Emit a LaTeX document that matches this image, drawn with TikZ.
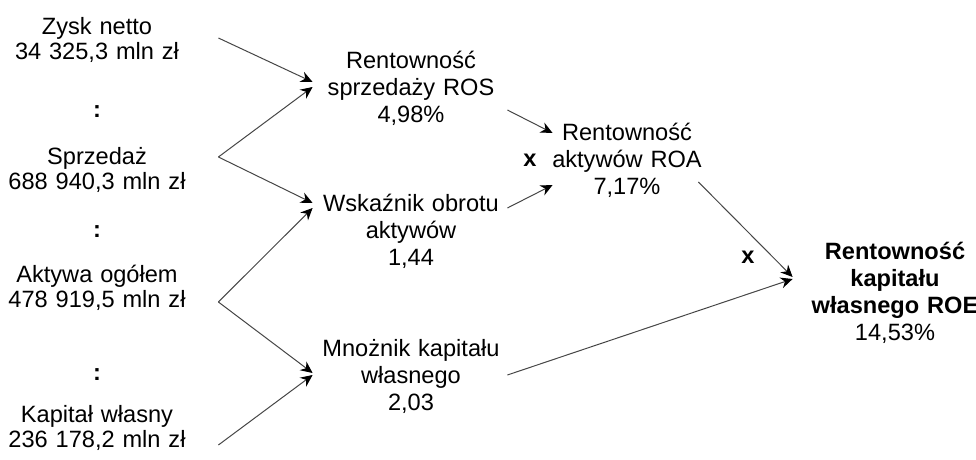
\documentclass[tikz,border=0pt]{standalone}
\usepackage{fontspec}
\setmainfont{Liberation Sans}
\usetikzlibrary{arrows.meta,calc}
\definecolor{linegray}{RGB}{70,70,70}
\newcommand{\diagfont}{\fontsize{11.8}{12.5}\selectfont}
\newcommand{\ratiofont}{\fontsize{11.8}{13.5}\selectfont}

\begin{document}
\begin{tikzpicture}[x=0.5pt, y=-0.5pt, font=\diagfont,
  val/.style={align=center, inner sep=0pt},
  src/.style={val, text width=95pt, inner xsep=13pt},
  mid/.style={val, font=\ratiofont, text width=95pt, inner xsep=1.5pt},
  op/.style={font=\diagfont\bfseries},
  link/.style={draw=linegray, line width=0.5pt, -{Stealth[length=6pt, width=5.5pt, inset=2pt, color=black]}}]
\useasboundingbox (0,0) rectangle (976,460);

% Left column
\node[src] (zysk) at (97,40) {Zysk netto\\34 325,3 mln zł};
\node[op] (d1) at (97,112) {:};
\node[src] (sprz) at (97,170) {Sprzedaż\\688 940,3 mln zł};
\node[op] (d2) at (97,232) {:};
\node[src] (akt) at (97,288) {Aktywa ogółem\\478 919,5 mln zł};
\node[op] (d3) at (97,375) {:};
\node[src] (kap) at (97,428) {Kapitał własny\\236 178,2 mln zł};

% Ratios
\node[mid] (ros) at (411,88) {Rentowność\\sprzedaży ROS\\4,98\%};
\node[mid] (wsk) at (411,231) {Wskaźnik obrotu\\aktywów\\1,44};
\node[mid] (mk) at (411,376) {Mnożnik kapitału\\własnego\\2,03};
\node[val, font=\ratiofont, text width=75pt] (roa) at (627,160) {Rentowność\\aktywów ROA\\7,17\%};
\node[val, font=\ratiofont, text width=85pt] (roe) at (895,293) {\textbf{Rentowność}\\\textbf{kapitału}\\\textbf{własnego ROE}\\14,53\%};

% Operators
\node[op] (x1) at (530,160) {x};
\node[op] (x2) at (748,257) {x};

% Junctions
\coordinate (j1) at ($(sprz.east)+(0,-13)$);
\coordinate (j2) at ($(akt.east)+(0,14)$);

% Edges
\draw[link] ($(zysk.east)+(0,-2)$) -- ($(ros.west)+(0,-6)$);
\draw[link] (j1) -- ($(ros.west)+(0,-1)$);
\draw[link] (j1) -- ($(wsk.west)+(0,-28)$);
\draw[link] (j2) -- ($(wsk.west)+(0,-23)$);
\draw[link] (j2) -- ($(mk.west)+(0,-3)$);
\draw[link] ($(kap.east)+(0,17)$) -- ($(mk.west)+(0,-1)$);
\draw[link] ($(ros.east)+(-2,22)$) -- ($(roa.west)+(1,-27)$);
\draw[link] ($(wsk.east)+(-2,-23)$) -- ($(roa.west)+(1,25)$);
\draw[link] ($(roa.east)+(-4,22)$) -- ($(roe.west)+(-17,-16)$);
\draw[link] ($(mk.east)+(-2,-1)$) -- ($(roe.west)+(-17,-14)$);

\end{tikzpicture}
\end{document}
